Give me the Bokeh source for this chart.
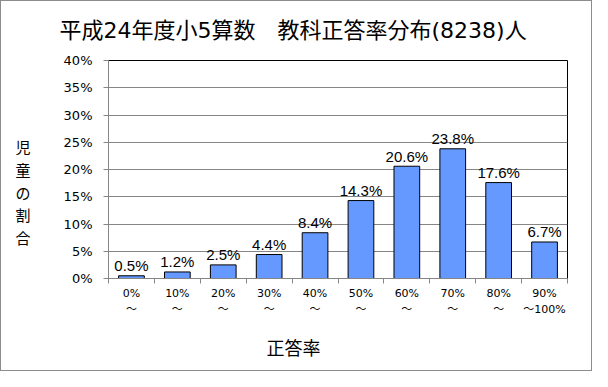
from bokeh.plotting import figure
from bokeh.models import Range1d, FixedTicker, PrintfTickFormatter, Title
from bokeh.core.properties import value
from bokeh.embed import file_html
from bokeh.resources import INLINE

title_text = "平成24年度小5算数　教科正答率分布(8238)人"
categories = ["0%\n～", "10%\n～", "20%\n～", "30%\n～", "40%\n～",
              "50%\n～", "60%\n～", "70%\n～", "80%\n～", "90%\n～100%"]
rates = [0.5, 1.2, 2.5, 4.4, 8.4, 14.3, 20.6, 23.8, 17.6, 6.7]
value_labels = [f"{v}%" for v in rates]
y_ticks = [0, 5, 10, 15, 20, 25, 30, 35, 40]
x_title = "正答率"
y_title = "児童の割合"

JP = "Noto Sans CJK JP"
NUM = "DejaVu Sans, Noto Sans CJK JP"

centers = [i + 0.5 for i in range(len(categories))]
bounds = list(range(len(categories) + 1))

p = figure(width=592, height=371,
           x_range=Range1d(0, len(categories)), y_range=Range1d(y_ticks[0], y_ticks[-1]),
           output_backend="svg", toolbar_location=None,
           min_border_left=107, min_border_right=26, min_border_top=58, min_border_bottom=93)
p.styles = {"border": "1px solid #8c8c8c"}
p.outline_line_color = "black"
p.outline_line_width = 1
p.background_fill_color = "white"
p.border_fill_color = "white"

# title
p.title.text = title_text
p.title.align = "left"
p.title.offset = -49
p.title.vertical_align = "top"
p.title.standoff = 32
p.title.text_font = NUM
p.title.text_font_size = "22px"
p.title.text_line_height = 1.0
p.title.text_font_style = "normal"
p.title.text_color = "black"

# grid
p.xgrid.visible = False
p.ygrid.grid_line_color = "#868686"
p.ygrid.grid_line_width = 1
p.ygrid.ticker = FixedTicker(ticks=y_ticks)

# y axis
ya = p.yaxis[0]
ya.ticker = FixedTicker(ticks=y_ticks)
ya.formatter = PrintfTickFormatter(format="%d%%")
ya.axis_line_color = "#868686"
ya.major_tick_line_color = "#868686"
ya.major_tick_out = 5
ya.major_tick_in = 0
ya.minor_tick_line_color = None
ya.major_label_standoff = 11
ya.major_label_text_font = NUM
ya.major_label_text_font_size = "13px"
ya.major_label_text_color = "black"
ya.axis_label = "\n\n" + "\n".join(y_title)
ya.axis_label_orientation = "horizontal"
ya.axis_label_standoff = 30
ya.axis_label_text_font = JP
ya.axis_label_text_font_size = "15px"
ya.axis_label_text_font_style = "normal"
ya.axis_label_text_line_height = 1.08
ya.axis_label_text_color = "black"

# x axis
xa = p.xaxis[0]
xa.ticker = FixedTicker(ticks=centers, minor_ticks=bounds)
xa.major_label_overrides = {c: lab for c, lab in zip(centers, categories)}
xa.axis_line_color = "#868686"
xa.major_tick_out = 0
xa.major_tick_in = 0
xa.major_tick_line_color = None
xa.minor_tick_out = 5
xa.minor_tick_in = 0
xa.minor_tick_line_color = "#868686"
xa.major_label_standoff = 3
xa.major_label_text_font = NUM
xa.major_label_text_font_size = "11px"
xa.major_label_text_line_height = 1.3
xa.major_label_text_color = "black"

# x title
xt = Title(text=x_title, align="left", offset=158, vertical_align="bottom",
           text_font=JP, text_font_size="18px", text_font_style="normal",
           text_color="black", standoff=25)
p.add_layout(xt, "below")

# bars
p.vbar(x=centers, top=rates, bottom=0, width=0.56,
       fill_color="#6699FF", line_color="black", line_width=1)

# value labels
p.text(x=centers, y=rates, text=value_labels, text_align="center",
       text_baseline="alphabetic", y_offset=-10,
       text_font=value("Liberation Sans Narrow, Liberation Sans"),
       text_font_size="15px", text_color="black")

open("out.html", "w").write(file_html(p, INLINE))
